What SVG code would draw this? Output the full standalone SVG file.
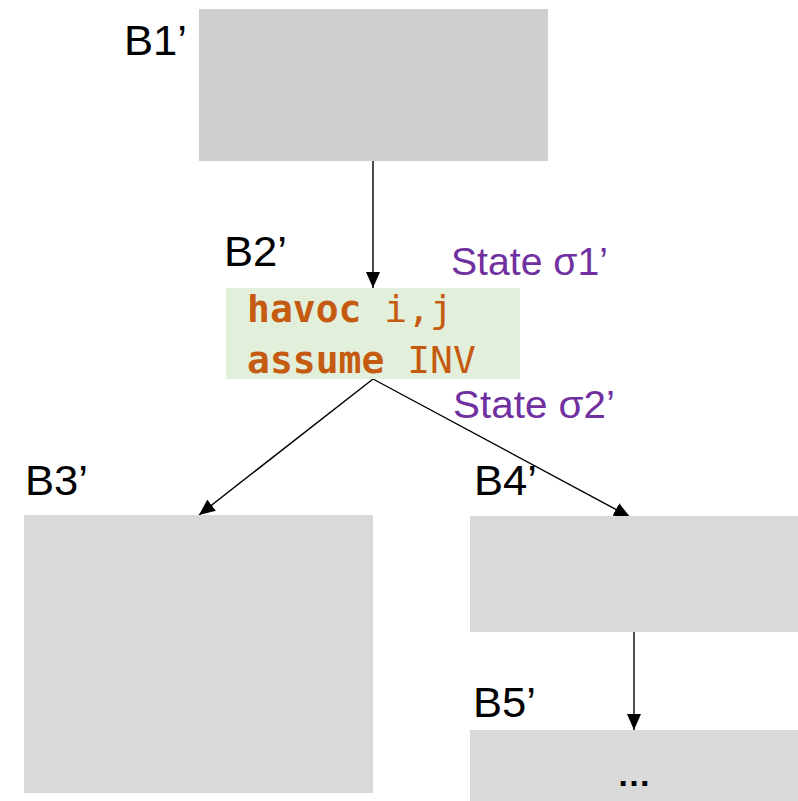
<svg xmlns="http://www.w3.org/2000/svg" width="798" height="801" viewBox="0 0 798 801">
  <defs>
    <marker id="arrowBig" viewBox="0 0 16 14" refX="16" refY="7" markerWidth="16" markerHeight="14" markerUnits="userSpaceOnUse" orient="auto">
      <path d="M0,0 L16,7 L0,14 Z" fill="#000"/>
    </marker>
  </defs>
  <style>
    .block { fill: #d9d9d9; }
    .label { font-family: "Liberation Sans", Arial, sans-serif; font-size: 42px; fill: #000; }
    .state { font-family: "Liberation Sans", Arial, sans-serif; font-size: 38px; fill: #7030a0; }
    .code { font-family: "DejaVu Sans Mono", "Liberation Mono", monospace; font-size: 38px; fill: #c55a11; }
    .kw { font-weight: bold; }
    .edge { stroke: #000; stroke-width: 1.4; fill: none; marker-end: url(#arrowBig); }
  </style>

  <rect width="798" height="801" fill="#ffffff"/>

  <g id="connectors">
    <line class="edge" x1="373" y1="161" x2="373" y2="288"/>
    <line class="edge" x1="373" y1="379" x2="199" y2="515"/>
    <line class="edge" x1="373" y1="379" x2="630" y2="517"/>
    <line class="edge" x1="634" y1="632" x2="634" y2="730"/>
  </g>

  <g id="B1">
    <rect x="199" y="9" width="349" height="152" fill="#d0cfd0"/>
    <text class="label" x="124" y="55" textLength="63" lengthAdjust="spacingAndGlyphs">B1’</text>
  </g>

  <g id="B2">
    <rect x="226" y="288" width="294" height="91" fill="#e2efda"/>
    <text class="label" x="224" y="266" textLength="63" lengthAdjust="spacingAndGlyphs">B2’</text>
    <text class="code" x="247" y="322"><tspan class="kw">havoc</tspan> i,j</text>
    <text class="code" x="247" y="373"><tspan class="kw">assume</tspan> INV</text>
  </g>

  <g id="states">
    <text class="state" x="451" y="275" textLength="157" lengthAdjust="spacingAndGlyphs">State σ1’</text>
    <text class="state" x="453" y="418" textLength="162" lengthAdjust="spacingAndGlyphs">State σ2’</text>
  </g>

  <g id="B3">
    <rect class="block" x="24" y="515" width="349" height="278"/>
    <text class="label" x="25" y="495" textLength="63" lengthAdjust="spacingAndGlyphs">B3’</text>
  </g>

  <g id="B4">
    <rect class="block" x="470" y="516" width="330" height="116"/>
    <text class="label" x="474" y="495" textLength="63" lengthAdjust="spacingAndGlyphs">B4’</text>
  </g>

  <g id="B5">
    <rect class="block" x="470" y="730" width="330" height="71"/>
    <text class="label" x="473" y="717" textLength="63" lengthAdjust="spacingAndGlyphs">B5’</text>
    <text x="634" y="786" text-anchor="middle" font-family="Liberation Sans, Arial, sans-serif" font-size="34" font-weight="bold" fill="#000">…</text>
  </g>
</svg>
